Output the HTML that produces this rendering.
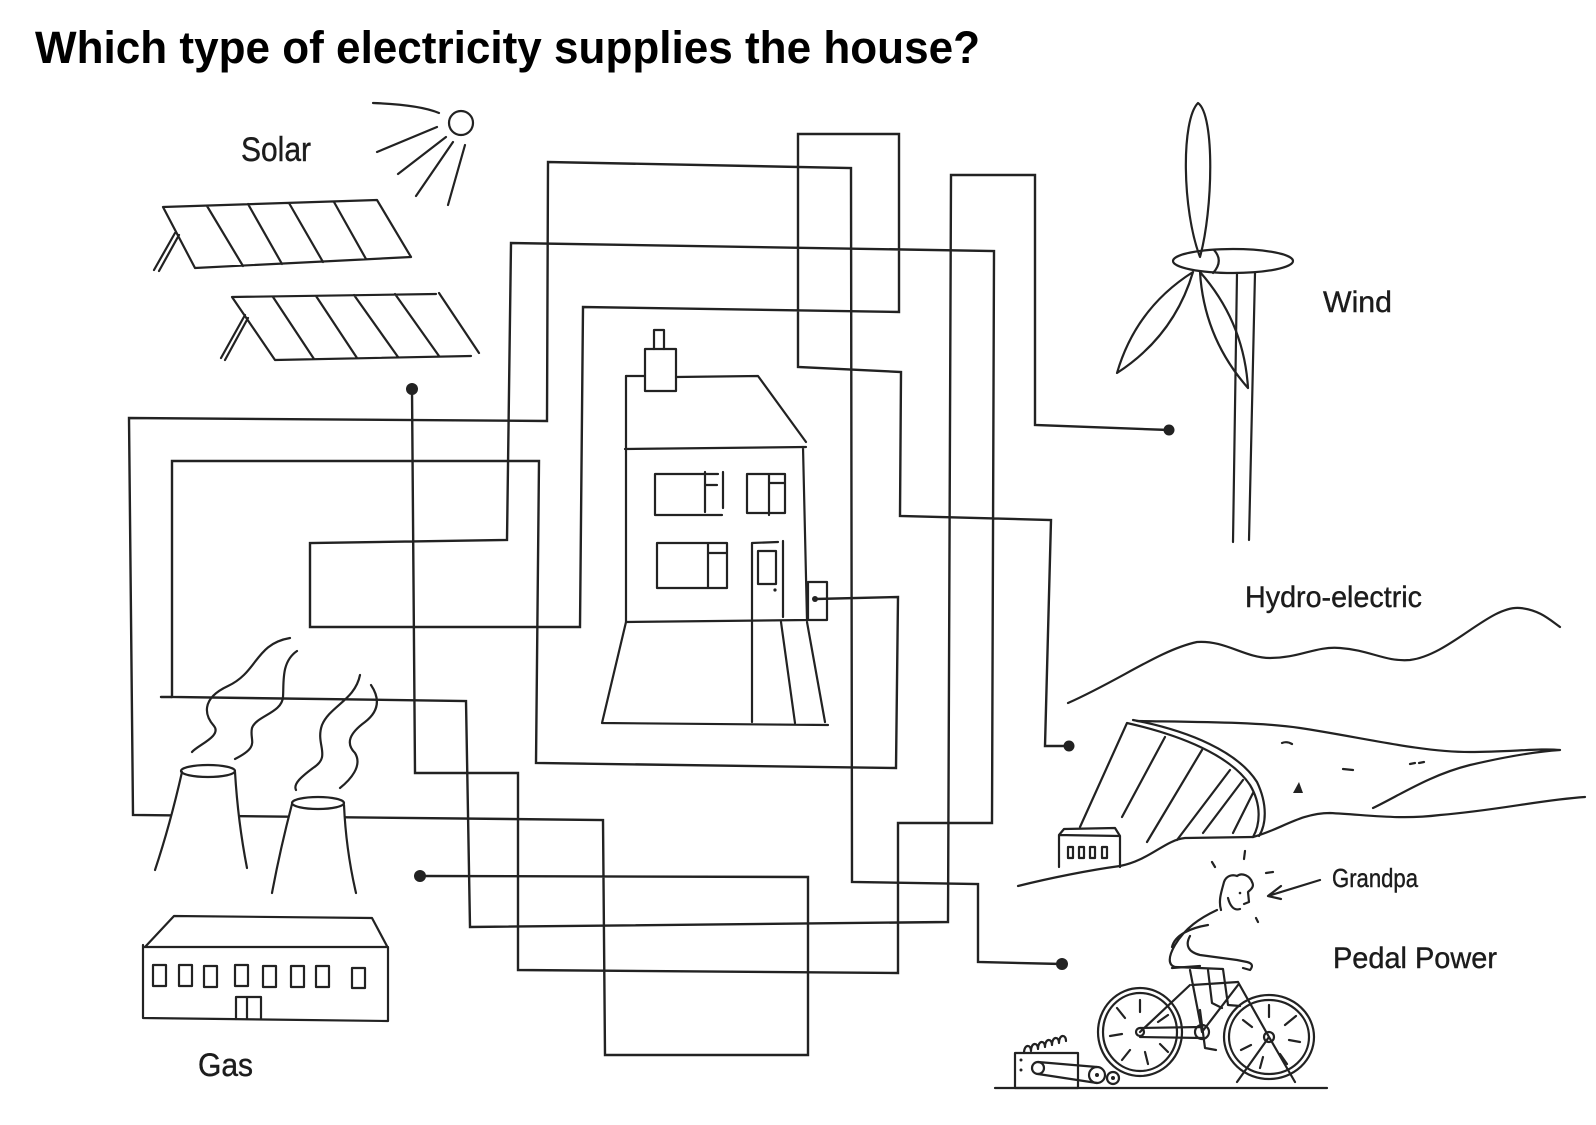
<!DOCTYPE html>
<html><head><meta charset="utf-8"><style>
html,body{margin:0;padding:0;background:#fff;}
svg{display:block;}
.m{fill:none;stroke:#222;stroke-width:2.4;stroke-linejoin:miter;stroke-linecap:round;}
.d{fill:none;stroke:#222;stroke-width:2.2;stroke-linejoin:round;stroke-linecap:round;}
.t{fill:#1c1c1c;stroke:#1c1c1c;stroke-width:0.4;font-family:"Liberation Sans",sans-serif;}
</style></head><body>
<svg width="1596" height="1125" viewBox="0 0 1596 1125" xmlns="http://www.w3.org/2000/svg">
<rect width="1596" height="1125" fill="#fff"/>

<!-- Title -->
<text x="35" y="63" font-family="Liberation Sans, sans-serif" font-weight="bold" font-size="45" fill="#000" textLength="945" lengthAdjust="spacingAndGlyphs">Which type of electricity supplies the house?</text>

<!-- Maze lines -->
<path class="m" d="M815,599 L898,597 L896,768 L536,763 L539,461 L172,461 L172,697 L466,701 L470,927 L948,922 L951,175 L1035,175 L1035,425 L1169,430"/>
<path class="m" d="M412,389 L415,773 L518,773 L518,970 L898,973 L898,823 L992,823 L994,251 L511,243 L507,540 L310,543 L310,627 L580,627 L583,307 L899,312 L899,134 L798,134 L798,367 L901,372 L900,516 L1051,520 L1045,746 L1069,746"/>
<path class="m" d="M420,876 L808,877 L808,1055 L605,1055 L603,820 L133,815 L129,418 L547,421 L548,162 L851,168 L852,882 L978,884 L978,962 L1062,964"/>
<path class="m" d="M161,697 L172,697"/>

<!-- dots -->
<circle cx="412" cy="389" r="6" fill="#222"/>
<circle cx="1169" cy="430" r="5.5" fill="#222"/>
<circle cx="1069" cy="746" r="5.5" fill="#222"/>
<circle cx="420" cy="876" r="6" fill="#222"/>
<circle cx="1062" cy="964" r="6" fill="#222"/>

<!-- Sun -->
<circle class="d" cx="461" cy="123" r="12"/>
<path class="d" d="M373,103 C400,104 425,107 439,113 M377,152 L437,127 M398,174 L446,137 M416,196 L453,142 M448,205 L465,145"/>
<text class="t" x="241" y="161" font-size="34" textLength="70" lengthAdjust="spacingAndGlyphs">Solar</text>

<!-- Solar panels -->
<path class="d" d="M163,207 L377,200 L411,257 L195,268 Z M207,206 L243,266 M248,204 L282,264 M289,203 L323,262 M334,202 L366,259 M175,233 L154,270 M179,235 L159,271"/>
<path class="d" d="M232,297 L436,294 M439,293 L479,353 M471,356 L275,360 L232,297 M273,297 L314,359 M316,296 L357,358 M354,295 L398,357 M395,294 L439,356 M245,315 L221,358 M248,318 L225,360"/>

<!-- House -->
<path class="d" d="M654,349 L654,330 L664,330 L664,349"/>
<rect class="d" x="645" y="349" width="31" height="42" fill="#fff"/>
<path class="d" d="M626,376 L645,376 M676,377 L758,376 L806,442"/>
<path class="d" d="M626,376 L626,622 M625,449 L806,447 M803,447 L807,620 M626,622 L807,620"/>
<path class="d" d="M655,474 L718,474 M655,474 L655,515 L722,515 M705,472 L705,512 M723,472 L723,508 M706,485 L717,485"/>
<path class="d" d="M747,474 L785,474 L785,513 L747,513 Z M769,474 L769,515 M769,483 L785,483"/>
<path class="d" d="M657,543 L727,543 L727,588 L657,588 Z M708,543 L708,588 M708,553 L727,553"/>
<path class="d" d="M752,543 L778,542 M752,543 L752,722 M783,541 L783,617 M758,551 L776,551 L776,584 L758,584 Z"/>
<circle cx="775" cy="590" r="1.6" fill="#222"/>
<path class="d" d="M626,622 L602,723 L828,725 M807,622 L825,722 M781,622 L795,723"/>
<rect class="d" x="808" y="582" width="19" height="38"/>
<circle cx="815" cy="599" r="3" fill="#222"/>

<!-- Gas -->
<path class="d" d="M290,638 C255,644 258,672 228,686 C200,699 205,716 214,726 C222,736 198,745 192,752"/>
<path class="d" d="M297,651 C281,662 284,682 283,697 C282,713 256,716 252,728 C249,741 261,746 235,759"/>
<path class="d" d="M360,675 C355,700 330,706 322,725 C315,745 332,756 313,768 C301,777 293,784 296,790"/>
<path class="d" d="M371,685 C381,700 378,712 365,722 C350,733 345,743 355,753 C363,766 350,780 340,788"/>
<path d="M182,772 Q170,825 155,870 L247,868 Q238,820 235,772 Z" fill="#fff"/>
<path class="d" d="M182,772 Q170,825 155,870 M235,772 Q238,822 247,868"/>
<ellipse class="d" cx="208" cy="771" rx="27" ry="6" fill="#fff"/>
<path d="M292,804 Q280,850 272,893 L356,893 Q346,850 344,805 Z" fill="#fff"/>
<path class="d" d="M292,804 Q280,850 272,893 M344,805 Q346,850 356,893"/>
<ellipse class="d" cx="318" cy="803" rx="26" ry="6" fill="#fff"/>
<path class="d" d="M145,947 L174,916 L372,918 L388,948 M143,945 L143,1018 L388,1021 L388,947 L143,947"/>
<g class="d">
<rect x="153" y="965" width="13" height="21"/><rect x="179" y="965" width="13" height="21"/>
<rect x="204" y="966" width="13" height="21"/><rect x="235" y="965" width="13" height="21"/>
<rect x="263" y="966" width="13" height="21"/><rect x="291" y="966" width="13" height="21"/>
<rect x="316" y="966" width="13" height="21"/><rect x="352" y="968" width="13" height="20"/>
</g>
<path class="d" d="M236,1019 L236,997 L261,997 L261,1019 M247,997 L247,1019"/>
<text class="t" x="198" y="1076" font-size="32" textLength="55" lengthAdjust="spacingAndGlyphs">Gas</text>

<!-- Wind turbine -->
<path class="d" d="M1237,273 L1233,542 M1255,273 L1249,540"/>
<path class="d" fill="#fff" d="M1200,257 C1182,210 1181,120 1198,103 C1215,115 1213,210 1200,257 Z"/>
<path class="d" fill="#fff" d="M1193,272 Q1136,308 1117,373 Q1174,336 1193,272 Z"/>
<path class="d" fill="#fff" d="M1200,272 Q1204,338 1248,388 Q1244,322 1200,272 Z"/>
<ellipse class="d" cx="1233" cy="261" rx="60" ry="12" fill="#fff"/>
<path class="d" d="M1214,250 Q1224,261 1213,273"/>
<text class="t" x="1323" y="312" font-size="30" textLength="69" lengthAdjust="spacingAndGlyphs">Wind</text>

<!-- Hydro -->
<text class="t" x="1245" y="607" font-size="30" textLength="177" lengthAdjust="spacingAndGlyphs">Hydro-electric</text>
<path class="d" d="M1068,703 C1120,680 1160,650 1197,642 C1225,640 1245,658 1270,658 C1300,658 1315,646 1340,648 C1370,650 1385,662 1410,660 C1450,655 1490,605 1520,608 C1540,610 1550,620 1560,627"/>
<path class="d" d="M1137,721 C1200,722 1260,722 1300,728 C1360,737 1420,752 1470,752 C1510,752 1540,748 1560,750 C1530,752 1500,758 1470,765 C1430,775 1400,795 1373,808"/>
<path class="d" d="M1253,837 C1280,830 1300,813 1330,813 C1370,815 1400,820 1440,815 C1500,810 1540,800 1585,797"/>
<path class="d" d="M1018,886 C1050,878 1090,870 1120,866 C1150,860 1165,840 1185,838 L1253,837"/>
<path class="d" d="M1127,723 L1080,827 M1127,723 C1180,735 1230,755 1250,785 C1262,805 1260,825 1253,837 M1133,720 C1190,731 1238,752 1257,782 C1268,805 1266,825 1259,836"/>
<path class="d" d="M1165,737 L1122,817 M1202,750 L1147,842 M1230,770 L1177,840 M1243,780 L1203,833 M1253,793 L1233,833"/>
<path class="d" d="M1059,867 L1059,835 L1064,829 L1115,828 L1120,836 L1120,867 M1059,835 L1120,836"/>
<g class="d"><rect x="1068" y="847" width="5" height="11"/><rect x="1079" y="847" width="5" height="11"/><rect x="1090" y="847" width="5" height="11"/><rect x="1102" y="847" width="5" height="11"/></g>
<path class="d" d="M1282,743 Q1287,741 1292,744 M1343,769 L1353,770 M1410,764 L1415,763 M1419,763 L1424,762"/>
<path d="M1293,793 L1299,782 L1303,793 Z" fill="#222"/>

<!-- Grandpa / pedal -->
<path class="d" d="M1212,862 L1215,867 M1245,851 L1244,859 M1266,873 L1273,872 M1256,918 L1258,922"/>
<path class="d" d="M1320,880 L1268,896 M1268,896 L1281,886 M1268,896 L1281,899"/>
<text class="t" x="1332" y="887" font-size="26" textLength="86" lengthAdjust="spacingAndGlyphs">Grandpa</text>
<text class="t" x="1333" y="968" font-size="30" textLength="164" lengthAdjust="spacingAndGlyphs">Pedal Power</text>
<path class="d" d="M1221,910 C1218,900 1222,890 1224,882 C1226,876 1232,874 1237,876 C1242,872 1250,876 1252,882 C1255,887 1250,890 1248,892 L1249,902 L1244,904 M1228,898 C1230,906 1234,911 1240,909"/>
<circle cx="1240" cy="893" r="1.3" fill="#222"/>
<path class="d" d="M1217,910 C1200,918 1185,928 1175,945 C1168,957 1168,965 1175,967 L1223,969 L1228,1005 L1240,1006 M1172,947 C1175,935 1190,928 1208,925 M1190,936 C1185,945 1188,952 1200,955 L1237,960 L1247,962 Q1255,964 1250,970 L1243,968 M1208,970 L1212,1003 L1222,1008 M1200,1010 L1205,1048 L1216,1050"/>
<path class="d" d="M1172,968 L1200,966"/>
<ellipse class="d" cx="1140" cy="1032" rx="42" ry="44"/>
<ellipse class="d" cx="1140" cy="1032" rx="37" ry="39"/>
<ellipse class="d" cx="1269" cy="1037" rx="45" ry="42"/>
<ellipse class="d" cx="1269" cy="1037" rx="40" ry="37"/>
<path class="d" d="M1140,1012 L1140,1000 M1125,1018 L1117,1008 M1122,1034 L1110,1036 M1130,1050 L1122,1060 M1145,1052 L1148,1064 M1160,1044 L1168,1052 M1158,1022 L1168,1015 M1269,1017 L1269,1005 M1285,1025 L1296,1016 M1289,1040 L1300,1042 M1280,1054 L1287,1064 M1263,1057 L1260,1068 M1251,1045 L1241,1050 M1252,1027 L1243,1020"/>
<path class="d" d="M1140,1028 L1202,1027 M1140,1037 L1202,1038 M1140,1032 L1190,985 M1202,1032 L1190,970 M1192,985 L1238,982 M1202,1032 L1238,985 M1238,982 L1269,1037 L1295,1082 M1269,1037 L1237,1082"/>
<circle class="d" cx="1202" cy="1032" r="7"/>
<circle class="d" cx="1140" cy="1032" r="4"/>
<circle class="d" cx="1269" cy="1037" r="5"/>
<path class="d" d="M995,1088 L1327,1088"/>
<rect class="d" x="1015" y="1053" width="63" height="35"/>
<path class="d" d="M1024,1053 c0,-9 7,-9 7,-2 c0,-9 7,-9 7,-2 c0,-9 7,-9 7,-2 c0,-9 7,-9 7,-2 c0,-9 7,-9 7,-2 c0,-9 7,-9 7,-2"/>
<circle class="d" cx="1038" cy="1068" r="6"/>
<path class="d" d="M1038,1062 L1097,1067 M1038,1074 L1097,1083"/>
<circle class="d" cx="1097" cy="1075" r="8" fill="#fff"/>
<circle class="d" cx="1113" cy="1078" r="6" fill="#fff"/>
<circle cx="1097" cy="1075" r="2" fill="#222"/><circle cx="1113" cy="1078" r="2" fill="#222"/>
<circle cx="1021" cy="1060" r="1.5" fill="#222"/><circle cx="1021" cy="1070" r="1.5" fill="#222"/>
</svg>
</body></html>
